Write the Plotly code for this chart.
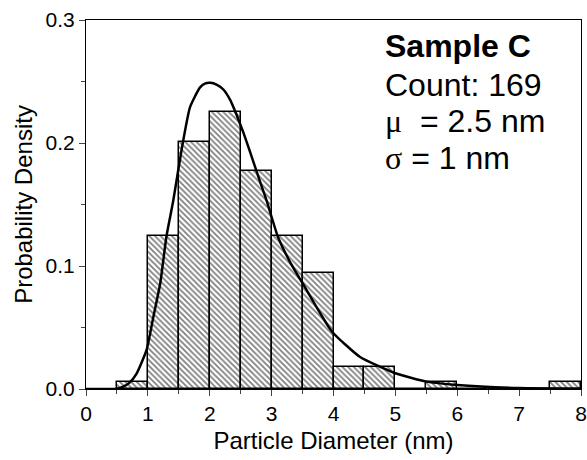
import plotly.graph_objects as go

# Histogram data (fraction of particles per 0.5 nm bin)
bin_centers = [0.75, 1.25, 1.75, 2.25, 2.75, 3.25, 3.75, 4.25, 4.75, 5.25, 5.75, 6.25, 6.75, 7.25, 7.75]
bin_values = [0.0059, 0.1243, 0.2012, 0.2249, 0.1775, 0.1243, 0.0947, 0.0178, 0.0178, 0.0, 0.0059, 0.0, 0.0, 0.0, 0.0059]
bin_width = 0.5

# Fitted curve
curve_x = [0, 0.4, 0.5, 0.6, 0.7, 0.82, 0.98, 1.09, 1.2, 1.3, 1.41, 1.55, 1.68, 1.84, 1.93, 2.01,
           2.11, 2.22, 2.33, 2.43, 2.54, 2.65, 2.81, 2.92, 3.1, 3.3, 3.5, 3.97, 4.43, 5.0, 5.5, 6.0, 7.0, 8.0]
curve_y = [0, 0, 0.0003, 0.002, 0.005, 0.0128, 0.032, 0.059, 0.086, 0.124, 0.153, 0.196, 0.229, 0.245, 0.2485, 0.249,
           0.2475, 0.2435, 0.235, 0.2233, 0.209, 0.193, 0.169, 0.153, 0.124, 0.103, 0.086, 0.047, 0.026, 0.0128, 0.006, 0.0033, 0.0008, 0.0002]

x_ticks = [0, 1, 2, 3, 4, 5, 6, 7, 8]
y_ticks = [0.0, 0.1, 0.2, 0.3]

SERIF = "Liberation Serif"
text_lines = ["<b>Sample C</b>", "Count: 169",
              f"<span style='font-family:{SERIF}'>μ</span>  = 2.5 nm",
              f"<span style='font-family:{SERIF}'>σ</span> = 1 nm"]

FONT = "Liberation Sans, Arial, sans-serif"

fig = go.Figure()
fig.add_trace(go.Bar(
    x=bin_centers, y=bin_values, width=bin_width,
    marker=dict(color="white",
                line=dict(color="black", width=1.5),
                pattern=dict(shape="\\", fgcolor="black", bgcolor="white", size=4, solidity=0.45)),
    showlegend=False,
))
fig.add_trace(go.Scatter(
    x=curve_x, y=curve_y, mode="lines",
    line=dict(color="black", width=2.5, shape="spline", smoothing=0.5),
    showlegend=False,
))

W, H = 587, 460
L, R, T, B = 86, 6, 20, 71
plot_h = H - T - B
plot_w = W - L - R

baselines = [56.7, 95, 131.7, 168.3]
for txt, bl in zip(text_lines, baselines):
    ypx = bl - 10.5
    fig.add_annotation(
        x=(383 - L) / plot_w, y=(H - B - ypx) / plot_h, xref="paper", yref="paper",
        text=txt, showarrow=False, xanchor="left", yanchor="middle",
        font=dict(family=FONT, size=32, color="black"),
    )

fig.update_layout(
    width=W, height=H,
    margin=dict(l=L, r=R, t=T, b=B),
    plot_bgcolor="white", paper_bgcolor="white",
    bargap=0,
    font=dict(family=FONT, color="black"),
    xaxis=dict(range=[0, 8], tickvals=x_ticks, ticks="outside", ticklen=6, tickwidth=1,
               showline=True, linecolor="black", linewidth=1, mirror=True,
               showgrid=False, zeroline=False, automargin=False,
               tickfont=dict(size=21, family=FONT),
               minor=dict(dtick=0.5, ticks="outside", ticklen=4, tickwidth=1, showgrid=False),
               title=dict(text="Particle Diameter (nm)", font=dict(size=24, family=FONT), standoff=7)),
    yaxis=dict(range=[0, 0.3], tickvals=y_ticks, tickformat=".1f", ticks="outside", ticklen=6, tickwidth=1,
               showline=True, linecolor="black", linewidth=1, mirror=True,
               showgrid=False, zeroline=False, automargin=False,
               tickfont=dict(size=21, family=FONT),
               minor=dict(dtick=0.05, ticks="outside", ticklen=4, tickwidth=1, showgrid=False),
               title=dict(text="Probability Density", font=dict(size=24, family=FONT), standoff=6)),
)

fig.write_html("out.html", config={"displayModeBar": False},
               post_script="document.body.style.margin='0';document.body.style.overflow='hidden';")
